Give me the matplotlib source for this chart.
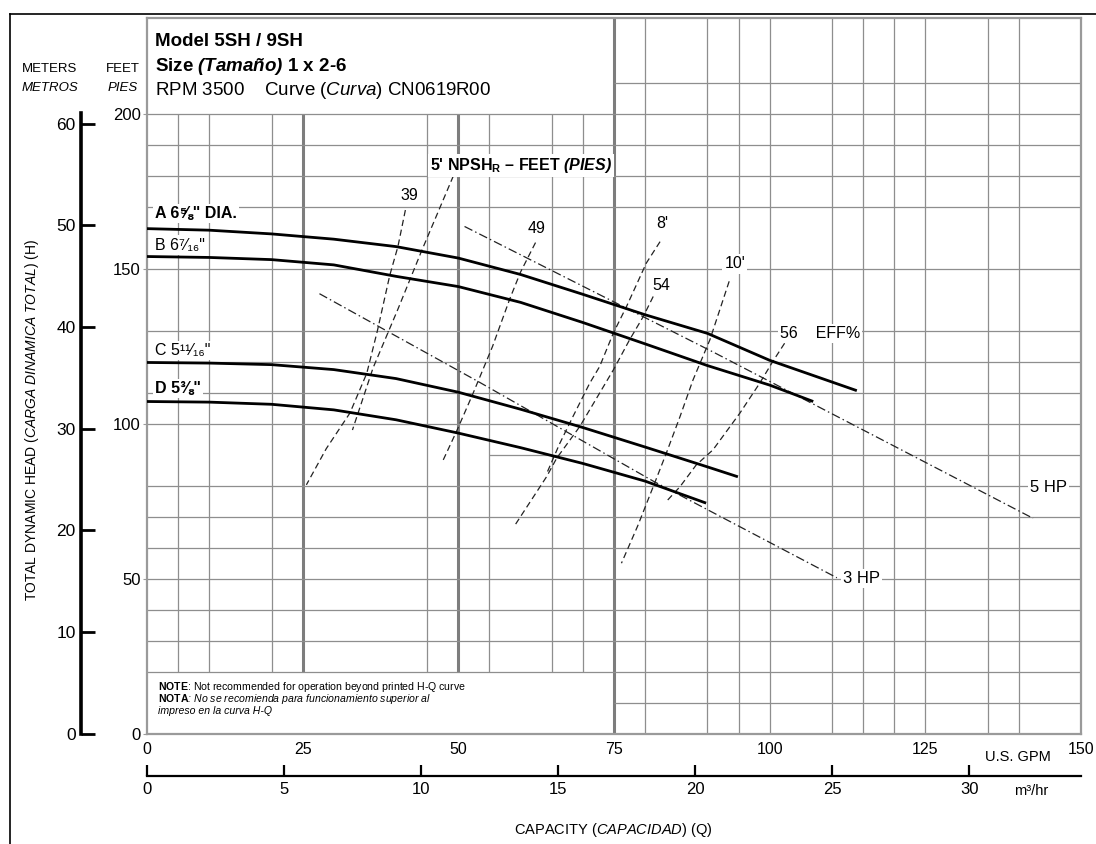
import matplotlib.pyplot as plt
from matplotlib.lines import Line2D

plt.rcParams['font.family'] = ['Liberation Sans', 'DejaVu Sans']
plt.rcParams['mathtext.fontset'] = 'custom'
plt.rcParams['mathtext.rm'] = 'Liberation Sans'
plt.rcParams['mathtext.it'] = 'Liberation Sans:italic'
plt.rcParams['mathtext.bf'] = 'Liberation Sans:bold'
plt.rcParams['mathtext.bfit'] = 'Liberation Sans:italic:bold'

FT_PER_M = 3.28084
GPM_PER_M3H = 4.40287

# head-capacity curves, capacity in U.S. GPM, head in feet
a_gpm = [0, 10, 20, 30, 40, 50, 60, 70, 80, 90, 100, 110, 114]
a_ft = [163, 162.5, 161.3, 159.6, 157.2, 153.5, 148.2, 141.8, 135.2, 129.2, 120.5, 113.5, 110.7]
b_gpm = [0, 10, 20, 30, 40, 50, 60, 70, 80, 90, 100, 107]
b_ft = [154, 153.7, 153, 151.3, 147.6, 144.3, 139.2, 132.7, 125.8, 118.8, 112.5, 107.2]
c_gpm = [0, 10, 20, 30, 40, 50, 60, 70, 80, 90, 94.9]
c_ft = [119.8, 119.6, 119.1, 117.5, 114.6, 110.2, 104.7, 98.8, 92.5, 86.1, 82.9]
d_gpm = [0, 10, 20, 30, 40, 50, 60, 70, 80, 89.8]
d_ft = [107.2, 107, 106.3, 104.5, 101.3, 97, 92.3, 87.2, 81.5, 74.4]
curve_labels = ['A 6⅝" DIA.', 'B 6⁷⁄₁₆"', 'C 5¹¹⁄₁₆"', 'D 5⅜"']
curve_label_ft = [168, 157.7, 123.8, 111.5]

# efficiency lines (%)
eff39_gpm = [41.5, 40.3, 39.0, 37.0, 35.3, 32.6, 28.8, 25.6]
eff39_ft = [169, 157.2, 148, 130, 116.3, 103.5, 92, 80.3]
eff49_gpm = [62.4, 60.0, 58.3, 55.5, 52.3, 49.7, 47.5]
eff49_ft = [158.5, 149, 140.5, 125, 109.5, 97.5, 88]
eff54_gpm = [81.3, 79.7, 77.5, 74.9, 69.5, 65.8, 64.2, 59.1]
eff54_ft = [141.1, 134.6, 127.1, 117.4, 99.1, 88.9, 83, 67.3]
eff56_gpm = [102.4, 100.5, 98.4, 95.2, 90.9, 88.2, 85.6, 83.4]
eff56_ft = [126, 120.1, 113.1, 103.4, 91.6, 86.7, 79.7, 74.9]

# NPSHr lines (feet)
npsh5_gpm = [49.2, 44.1, 40.3, 36.3, 33.0]
npsh5_ft = [180, 155.8, 137, 118, 98]
npsh8_gpm = [82.4, 80.2, 77.0, 74.9, 72.7, 71.1, 68.4, 66.3, 64.2]
npsh8_ft = [158.8, 151.9, 137.8, 129.3, 118.5, 113.1, 102.3, 93.7, 84]
npsh10_gpm = [93.5, 90.4, 87.7, 85.6, 83.4, 81.3, 78.8, 76.2]
npsh10_ft = [146, 127.1, 114.2, 102.3, 90.5, 79.7, 67, 55]

# horsepower lines
hp5_gpm = [51.0, 90.9, 142.3]
hp5_ft = [163.7, 123.2, 69.5]
hp3_gpm = [27.7, 53.5, 81.3, 110.8]
hp3_ft = [142, 113.3, 81.5, 50.3]

# grid lines that show on the sheet
grid_gpm = [5, 10, 20, 45, 55, 65, 70, 80, 90, 95, 100, 110, 115, 120, 125, 135, 140]
heavy_gpm = [25, 50, 75]
grid_ft = [10, 20, 30, 40, 50, 60, 70, 80, 90, 100, 110, 120, 130, 150, 170, 180, 190, 200, 210]

gpm_ticks = [0, 25, 50, 75, 100, 125, 150]
ft_ticks = [0, 50, 100, 150, 200]
m_ticks = [0, 10, 20, 30, 40, 50, 60]
m3h_ticks = [0, 5, 10, 15, 20, 25, 30]

fig = plt.figure(figsize=(10.96, 8.44), dpi=100)
ax = fig.add_axes([0.1341, 0.1308, 0.8522, 0.8479])
ax.set_xlim(0, 150)
ax.set_ylim(0, 231)

grid_c = '#8e8e8e'
for g in grid_gpm:
    if g < 75:
        ax.vlines(g, 20, 200, color=grid_c, lw=0.9, zorder=1)
    else:
        ax.vlines(g, 0, 231, color=grid_c, lw=0.9, zorder=1)
for g in heavy_gpm:
    if g < 75:
        ax.vlines(g, 20, 200, color='#7d7d7d', lw=2.2, zorder=1)
    else:
        ax.vlines(g, 0, 231, color='#7d7d7d', lw=2.2, zorder=1)
for f in grid_ft:
    if 20 <= f <= 200:
        start = 55 if f == 90 else 0
        ax.hlines(f, start, 150, color=grid_c, lw=0.9, zorder=1)
    else:
        ax.hlines(f, 75, 150, color=grid_c, lw=0.9, zorder=1)

for s in ax.spines.values():
    s.set_color('#9a9a9a')
    s.set_linewidth(1.6)

# head curves
for xs, ys in [(a_gpm, a_ft), (b_gpm, b_ft), (c_gpm, c_ft), (d_gpm, d_ft)]:
    ax.plot(xs, ys, color='black', lw=2.0, solid_capstyle='butt', zorder=4)

dash = dict(color='#222222', lw=0.9, dashes=(5, 3), zorder=3)
for xs, ys in [(eff39_gpm, eff39_ft), (eff49_gpm, eff49_ft), (eff54_gpm, eff54_ft),
               (eff56_gpm, eff56_ft), (npsh5_gpm, npsh5_ft), (npsh8_gpm, npsh8_ft),
               (npsh10_gpm, npsh10_ft)]:
    ax.plot(xs, ys, **dash)

for xs, ys in [(hp5_gpm, hp5_ft), (hp3_gpm, hp3_ft)]:
    ax.plot(xs, ys, color='#222222', lw=0.9, dashes=(7, 2.5, 1.2, 2.5), zorder=3)

white = dict(facecolor='white', edgecolor='none', pad=1.5)
for i, (lab, y) in enumerate(zip(curve_labels, curve_label_ft)):
    ax.text(1.3, y, lab, fontsize=11.5, fontweight='bold' if i in (0, 3) else 'normal',
            va='center', ha='left', bbox=white, zorder=5)

ax.text(42.2, 173.8, '39', fontsize=11.5, ha='center', va='center', bbox=white, zorder=5)
ax.text(62.6, 163.2, '49', fontsize=11.5, ha='center', va='center', bbox=white, zorder=5)
ax.text(82.6, 144.5, '54', fontsize=11.5, ha='center', va='center', bbox=white, zorder=5)
ax.text(101.6, 129.2, '56    EFF%', fontsize=11.5, ha='left', va='center', bbox=white, zorder=5)
ax.text(82.8, 164.8, "8'", fontsize=11.5, ha='center', va='center', bbox=white, zorder=5)
ax.text(94.4, 151.6, "10'", fontsize=11.5, ha='center', va='center', bbox=white, zorder=5)
ax.text(45.4, 183.5, r"5' NPSH$_\mathbf{R}$ – FEET $\mathbfit{(PIES)}$", fontsize=11.5,
        fontweight='bold', ha='left', va='center', bbox=white, zorder=5)
ax.text(141.8, 79.6, '5 HP', fontsize=12, ha='left', va='center', bbox=white, zorder=5)
ax.text(111.7, 50.2, '3 HP', fontsize=12, ha='left', va='center', bbox=white, zorder=5)

# header block
ax.text(1.3, 223.3, 'Model 5SH / 9SH', fontsize=13.5, fontweight='bold', va='center')
ax.text(1.3, 215.2, r"$\mathbf{Size}$ (Tamaño) $\mathbf{1\ x\ 2}$-$\mathbf{6}$", fontsize=13.5,
        fontweight='bold', style='italic', va='center')
ax.text(1.3, 207.5, r"RPM 3500    Curve $\mathit{(Curva)}$ CN0619R00", fontsize=13.5, va='center')

# note block
ax.text(1.8, 15.1, r"$\mathbf{NOTE}$: Not recommended for operation beyond printed H-Q curve",
        fontsize=7.6, va='center')
ax.text(1.8, 11.2, r"$\mathbf{NOTA}$: No se recomienda para funcionamiento superior al",
        fontsize=7.6, style='italic', va='center')
ax.text(1.8, 7.3, "impreso en la curva H-Q", fontsize=7.6, style='italic', va='center')

# feet and GPM scales
ax.set_yticks(ft_ticks)
ax.set_yticklabels([str(t) for t in ft_ticks])
ax.tick_params(axis='y', length=3, color='#9a9a9a', labelsize=12, pad=1.5)
ax.set_xticks(gpm_ticks)
ax.set_xticklabels([str(t) for t in gpm_ticks])
ax.tick_params(axis='x', length=0, labelsize=11.5, pad=6)
ax.text(139.9, -7.5, 'U.S. GPM', fontsize=10.5, ha='center', va='center', clip_on=False)

# metres scale
sec_y = ax.secondary_yaxis(-0.0705, functions=(lambda f: f / FT_PER_M, lambda m: m * FT_PER_M))
sec_y.set_yticks(m_ticks)
sec_y.spines['left'].set_bounds(0, 61.1)
sec_y.spines['left'].set_linewidth(2.6)
sec_y.tick_params(direction='in', length=10, width=2, labelsize=12.5, pad=4)

# m3/hr scale
sec_x = ax.secondary_xaxis(-0.0593, functions=(lambda g: g / GPM_PER_M3H, lambda q: q * GPM_PER_M3H))
sec_x.set_xticks(m3h_ticks)
sec_x.spines['bottom'].set_linewidth(1.6)
sec_x.tick_params(direction='in', length=8, width=1.6, labelsize=12, pad=4)
ax.text(142.0, -18.4, 'm³/hr', fontsize=10.5, ha='center', va='center', clip_on=False)

# axis titles
fig.text(50 / 1096, 1 - 69 / 844, 'METERS', fontsize=9.5, ha='center', va='center')
fig.text(50 / 1096, 1 - 88 / 844, 'METROS', fontsize=9.5, style='italic', ha='center', va='center')
fig.text(123 / 1096, 1 - 69 / 844, 'FEET', fontsize=9.5, ha='center', va='center')
fig.text(123 / 1096, 1 - 88 / 844, 'PIES', fontsize=9.5, style='italic', ha='center', va='center')
fig.text(32 / 1096, 1 - 420 / 844, r"TOTAL DYNAMIC HEAD $\mathit{(CARGA\ DINAMICA\ TOTAL)}$ (H)",
         fontsize=10, rotation=90, ha='center', va='center')
fig.text(613 / 1096, 1 - 830 / 844, r"CAPACITY $\mathit{(CAPACIDAD)}$ (Q)",
         fontsize=10.5, ha='center', va='center')

# sheet border
fig.add_artist(Line2D([10 / 1096, 1], [1 - 13.5 / 844] * 2, color='black', lw=1.2, transform=fig.transFigure))
fig.add_artist(Line2D([10 / 1096] * 2, [0, 1 - 13.5 / 844], color='black', lw=1.2, transform=fig.transFigure))

fig.savefig('out.png', dpi=100)
